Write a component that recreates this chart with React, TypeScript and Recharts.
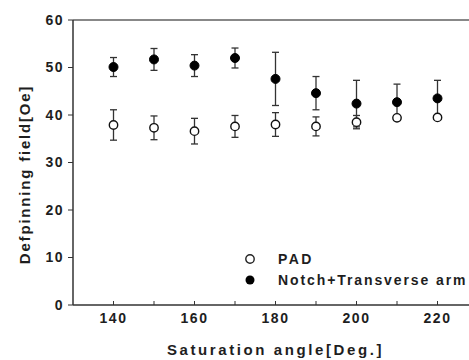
import React from "react";
import {
  ScatterChart,
  Scatter,
  XAxis,
  YAxis,
  ErrorBar,
  ReferenceLine,
} from "recharts";

// saturation angles [deg]
const angles = [140, 150, 160, 170, 180, 190, 200, 210, 220];

// PAD (open circles)
const padField = [37.9, 37.3, 36.6, 37.6, 38.0, 37.6, 38.5, 39.4, 39.5];
const padErr = [3.2, 2.5, 2.7, 2.3, 2.5, 2.0, 1.4, 0.5, 0.5];

// Notch + Transverse arm (filled circles)
const notchField = [50.1, 51.7, 50.4, 52.0, 47.6, 44.6, 42.4, 42.7, 43.5];
const notchErr = [2.0, 2.3, 2.3, 2.1, 5.6, 3.5, 4.9, 3.8, 3.8];

const xTicks = [140, 150, 160, 170, 180, 190, 200, 210, 220];
const yTicks = [0, 10, 20, 30, 40, 50, 60];
const yMinorTicks = [5, 15, 25, 35, 45, 55];

const padData = angles.map((x, i) => ({ x, y: padField[i], err: padErr[i] }));
const notchData = angles.map((x, i) => ({ x, y: notchField[i], err: notchErr[i] }));

const font = "'Liberation Sans', Arial, sans-serif";
const ink = "#1e1e1e";

const OpenDot = (props: any) => {
  const { cx, cy } = props;
  if (cx == null || cy == null) return null;
  return <circle cx={cx} cy={cy} r={4.2} fill="#fff" stroke="#111" strokeWidth={1.4} />;
};

const FilledDot = (props: any) => {
  const { cx, cy } = props;
  if (cx == null || cy == null) return null;
  return <circle cx={cx} cy={cy} r={4.5} fill="#000" stroke="#000" />;
};

const LegendBox = () => (
  <svg
    width={225}
    height={40}
    style={{ position: "absolute", left: 244, top: 250, overflow: "hidden" }}
  >
    <circle cx={6} cy={9} r={4.2} fill="#fff" stroke="#222" strokeWidth={1.4} />
    <text x={34} y={14} fontFamily={font} fontWeight="bold" fontSize={14} letterSpacing={2.4} fill={ink}>
      PAD
    </text>
    <circle cx={6} cy={30} r={4.5} fill="#000" />
    <text x={34} y={35} fontFamily={font} fontWeight="bold" fontSize={14} letterSpacing={1.9} fill={ink}>
      Notch+Transverse arm
    </text>
  </svg>
);

const App = () => {
  return (
    <div
      style={{
        position: "absolute",
        left: 0,
        top: 0,
        width: 469,
        height: 360,
        overflow: "hidden",
        background: "#fff",
      }}
    >
      <ScatterChart
        width={490}
        height={360}
        margin={{ top: 20, right: 12, left: 0, bottom: 0 }}
      >
        <XAxis
          type="number"
          dataKey="x"
          domain={[130, 230]}
          ticks={xTicks}
          tickFormatter={(v: number) => (v % 20 === 0 ? String(v) : "")}
          allowDataOverflow
          height={55}
          tickSize={-4}
          tickMargin={12}
          axisLine={{ stroke: "#333", strokeWidth: 1.5 }}
          tickLine={{ stroke: "#333" }}
          tick={{ fontSize: 14, fontWeight: "bold", fill: ink, fontFamily: font, letterSpacing: 1.5 }}
          label={{
            value: "Saturation angle[Deg.]",
            position: "insideBottom",
            offset: 5,
            style: { fontSize: 15, fontWeight: "bold", fill: ink, fontFamily: font, letterSpacing: 2.6 },
          }}
        />
        <YAxis
          type="number"
          dataKey="y"
          domain={[0, 60]}
          ticks={yTicks}
          width={73}
          tickSize={5}
          tickMargin={4}
          axisLine={{ stroke: "#333", strokeWidth: 1.5 }}
          tickLine={{ stroke: "#333" }}
          tick={{ fontSize: 14, fontWeight: "bold", fill: ink, fontFamily: font, letterSpacing: 1.5 }}
          label={{
            value: "Defpinning field[Oe]",
            angle: -90,
            position: "center",
            dx: -12,
            dy: 12,
            style: { fontSize: 15, fontWeight: "bold", fill: ink, fontFamily: font, letterSpacing: 1.8, textAnchor: "middle" },
          }}
        />
        <YAxis
          yAxisId="minor"
          type="number"
          domain={[0, 60]}
          ticks={yMinorTicks}
          width={0}
          orientation="left"
          tickSize={-3}
          tickFormatter={() => ""}
          axisLine={false}
          tickLine={{ stroke: "#333" }}
        />
        <ReferenceLine y={60} stroke="#888" strokeWidth={2} />
        <Scatter data={padData} shape={<OpenDot />} isAnimationActive={false} name="PAD">
          <ErrorBar dataKey="err" direction="y" width={3.5} stroke="#333" strokeWidth={1.3} />
        </Scatter>
        <Scatter data={notchData} shape={<FilledDot />} isAnimationActive={false} name="Notch+Transverse arm">
          <ErrorBar dataKey="err" direction="y" width={3.5} stroke="#333" strokeWidth={1.3} />
        </Scatter>
      </ScatterChart>
      <LegendBox />
    </div>
  );
};

export default App;
